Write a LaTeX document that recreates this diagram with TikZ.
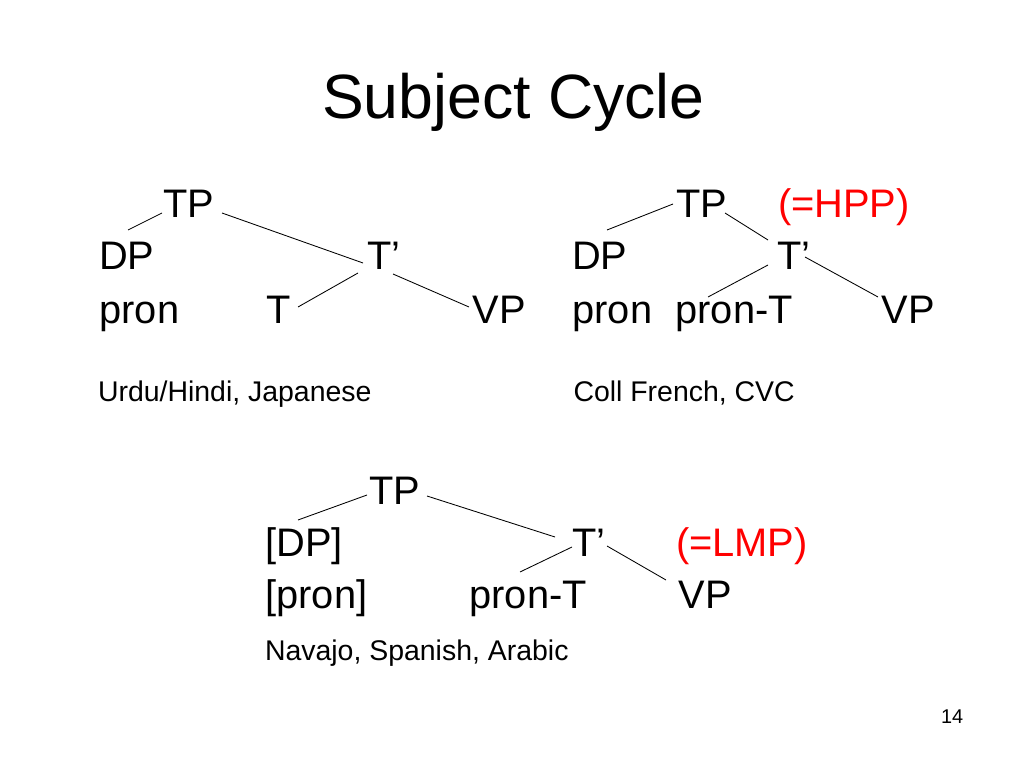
\documentclass[tikz,border=0pt]{standalone}
\usepackage{fontspec}
\setmainfont{Liberation Sans}
\begin{document}
\begin{tikzpicture}[x=0.703125pt,y=-0.703125pt,
  lbl/.style={inner sep=0pt, outer sep=0pt, anchor=base west, font=\fontsize{28}{34}\selectfont},
  hilite/.style={lbl, text={rgb,255:red,255;green,0;blue,0}},
  langs/.style={lbl, font=\fontsize{20}{24}\selectfont},
  titletext/.style={lbl, font=\fontsize{44}{52}\selectfont},
  pagenum/.style={lbl, font=\fontsize{14}{17}\selectfont},
  branch/.style={draw=black, line width=0.6pt}]
\useasboundingbox[fill=white] (0,0) rectangle (1024,768);

\node[titletext] (title) at (322,119) {Subject Cycle};

% Tree 1
\node[lbl] (TP1) at (163,218) {TP};
\node[lbl] (DP1) at (99,270) {DP};
\node[lbl] (Tb1) at (367,270) {T’};
\node[lbl] (pron1) at (99.5,323) {pron};
\node[lbl] (T1) at (266,323) {T};
\node[lbl] (VP1) at (472.5,323) {VP};
\node[langs] (lang1) at (98,401) {Urdu/Hindi, Japanese};
\draw[branch] ([shift={(-1,-5)}]TP1.base west) -- ([shift={(29,-40)}]DP1.base west);
\draw[branch] ([shift={(59,-5)}]TP1.base west) -- ([shift={(-4,-7)}]Tb1.base west);
\draw[branch] ([shift={(-9,3)}]Tb1.base west) -- ([shift={(32,-16)}]T1.base west);
\draw[branch] ([shift={(26,4)}]Tb1.base west) -- ([shift={(-3.5,-16)}]VP1.base west);

% Tree 2
\node[lbl] (TP2) at (676,218) {TP};
\node[hilite] (HPP) at (778,218) {(=HPP)};
\node[lbl] (DP2) at (572,270) {DP};
\node[lbl] (Tb2) at (777,270) {T’};
\node[lbl] (pron2) at (572.5,323) {pron};
\node[lbl] (pronT2) at (675.5,323) {pron-T};
\node[lbl] (VP2) at (881.5,323) {VP};
\node[langs] (lang2) at (573.5,401) {Coll French, CVC};
\draw[branch] ([shift={(-3,-14)}]TP2.base west) -- ([shift={(35,-40)}]DP2.base west);
\draw[branch] ([shift={(49,-5)}]TP2.base west) -- ([shift={(-9,-30)}]Tb2.base west);
\draw[branch] ([shift={(-9,-5)}]Tb2.base west) -- ([shift={(32.5,-26)}]pronT2.base west);
\draw[branch] ([shift={(28,-13)}]Tb2.base west) -- ([shift={(-3.5,-26)}]VP2.base west);

% Tree 3
\node[lbl] (TP3) at (369,504) {TP};
\node[lbl] (DP3) at (265.5,556) {[DP]};
\node[lbl] (Tb3) at (572,556) {T’};
\node[hilite] (LMP) at (676,556) {(=LMP)};
\node[lbl] (pron3) at (265.5,608) {[pron]};
\node[lbl] (pronT3) at (469.5,608) {pron-T};
\node[lbl] (VP3) at (678.5,608) {VP};
\node[langs] (lang3) at (265,660) {Navajo, Spanish, Arabic};
\draw[branch] ([shift={(-2,-9)}]TP3.base west) -- ([shift={(32.5,-36)}]DP3.base west);
\draw[branch] ([shift={(58,-8)}]TP3.base west) -- ([shift={(-17,-19)}]Tb3.base west);
\draw[branch] ([shift={(0,-9)}]Tb3.base west) -- ([shift={(50.5,-36)}]pronT3.base west);
\draw[branch] ([shift={(35,-10)}]Tb3.base west) -- ([shift={(-12.5,-28)}]VP3.base west);

\node[pagenum] (page) at (941,723) {14};
\end{tikzpicture}
\end{document}
